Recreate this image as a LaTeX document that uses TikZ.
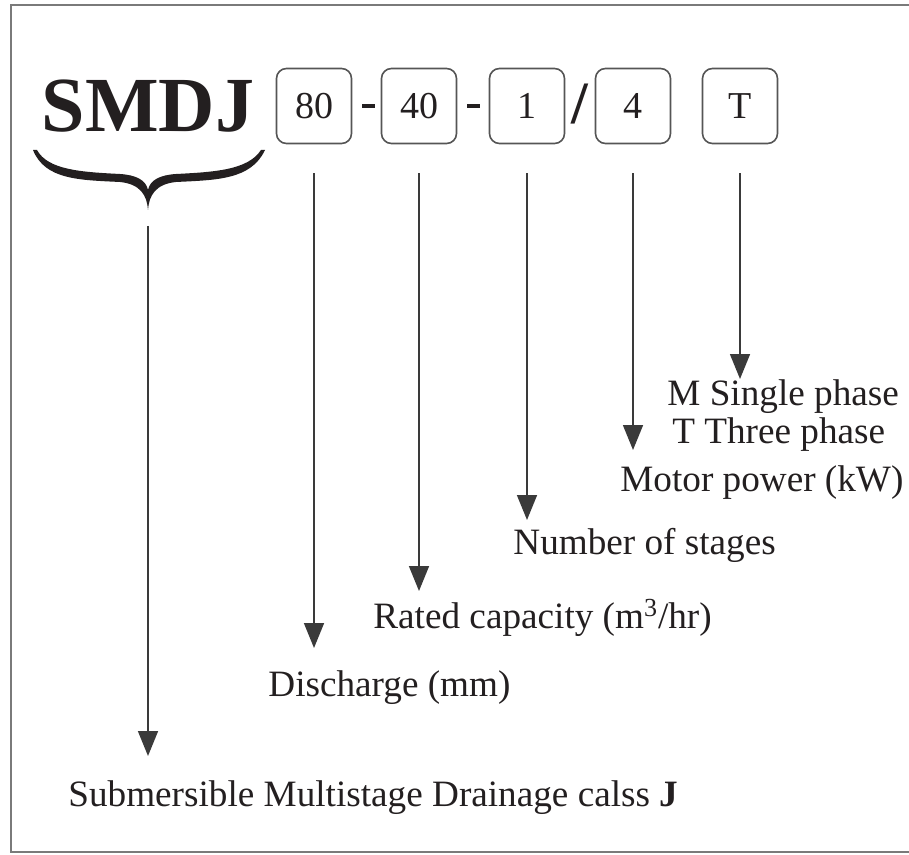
\documentclass[tikz,border=0pt]{standalone}
\usepackage{fontspec}
\setmainfont{Liberation Serif}
\usepackage{tikz}
\usetikzlibrary{positioning,arrows.meta,calc}
\definecolor{ink}    {HTML}{231F20}
\definecolor{frame}  {HTML}{7A7A7A}
\definecolor{boxline}{HTML}{555555}
\definecolor{stem}   {HTML}{3A3A3A}
\tikzset{
  every node/.style={text=ink},
  % --- nodes
  code/.style  = {draw=boxline, rounded corners=5pt, line width=0.8pt,
                  minimum width=37.5pt, minimum height=37.5pt, inner sep=0pt,
                  font=\fontsize{19}{22}\selectfont},
  sep/.style   = {fill=ink, inner sep=0pt, minimum width=6.5pt, minimum height=1.6pt},
  lbl/.style   = {anchor=west, inner sep=0pt, align=left,
                  font=\fontsize{18.6}{19}\selectfont},
  % --- edges
  e/.style     = {draw=stem, line width=0.8pt,
                  -{Triangle[width=10pt,length=12.5pt]}},
}

\begin{document}
\begin{tikzpicture}[x=0.5pt,y=-0.5pt]
  \useasboundingbox (0,0) rectangle (909,855);
  \draw[draw=frame,line width=1pt] (11,5) rectangle (930,852);

  % model code
  \node[inner sep=0pt,font=\fontsize{39}{40}\selectfont\bfseries] (smdj) at (148,106) {SMDJ};
  \foreach \n/\x/\t in {b80/314/80, b40/419/40, b1/527/1, b4/633/4, bT/740/T}
    \node[code] (\n) at (\x,106) {\t};
  \node[sep] (d1) at (368,106) {};
  \node[sep] (d2) at (473,106) {};
  \node[inner sep=0pt,font=\fontsize{30}{30}\selectfont\bfseries] (sl) at (580,104) {/};

  % brace under SMDJ
  \fill[ink] (33,150) .. controls (45,180) and (80,180) .. (120,182)
             .. controls (140,184) and (147,195) .. (148,210)
             .. controls (149,195) and (156,184) .. (176,182)
             .. controls (216,180) and (251,180) .. (265,150)
             -- (261,150) .. controls (248,170) and (215,172) .. (176,174)
             .. controls (160,175) and (150,180) .. (148,190)
             .. controls (146,180) and (136,175) .. (120,174)
             .. controls (81,172) and (48,170) .. (37,150) -- cycle;
  \coordinate (brace) at (148,226);

  % labels
  \node[lbl] (phase) at (667,416) {M Single phase\\\hspace{2.5pt}T Three phase};
  \node[lbl] (power) at (620,483) {Motor power (kW)};
  \node[lbl] (stages) at (513,545) {Number of stages};
  \node[lbl] (cap) at (373,618) {Rated capacity (m\textsuperscript{3}/hr)};
  \node[lbl] (dis) at (268,688) {Discharge (mm)};
  \node[lbl] (smd) at (68,798) {Submersible Multistage Drainage calss \textbf{J}};

  % arrows
  \foreach \n/\y in {b80/648, b40/591, b1/520, b4/450, bT/379}
  {
    \coordinate (\n-tip) at (\n.south |- 0,\y);
    \draw[e] ([yshift=-14.5pt]\n.south) -- (\n-tip);
  }
  \coordinate (smdj-tip) at (148,756);
  \draw[e] (brace) -- (smdj-tip);
\end{tikzpicture}
\end{document}
